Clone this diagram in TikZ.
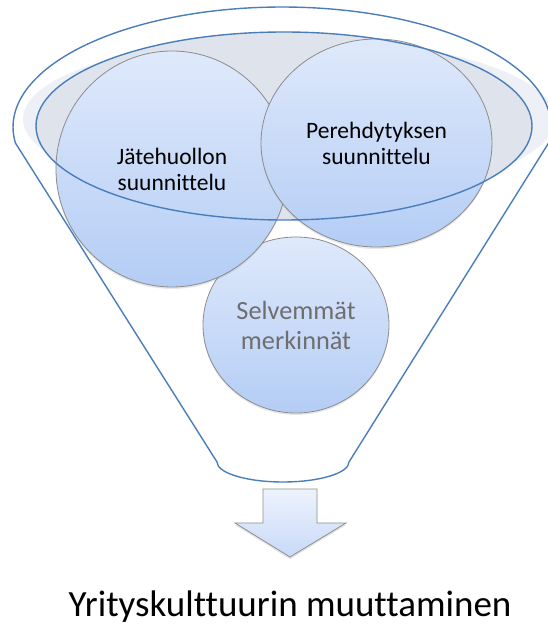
\documentclass[tikz,border=0pt]{standalone}
\usepackage{fontspec}
\setmainfont{Carlito}[Ligatures={NoCommon}]
\usetikzlibrary{shapes.geometric, shadows}
\definecolor{funnelblue}{HTML}{4A7EBB}
\definecolor{bubbletop}{HTML}{DFE9FB}
\definecolor{bubblebot}{HTML}{B4CDF5}
\definecolor{bubblestroke}{HTML}{8C8C8C}
\definecolor{rimshade}{HTML}{EDF0F6}
\definecolor{rimtint}{HTML}{DFE4EC}
\definecolor{arrowtop}{HTML}{EEF3FD}
\definecolor{arrowbot}{HTML}{C8D9F7}
\definecolor{arrowstroke}{HTML}{909090}
\definecolor{greytext}{HTML}{6E6E6E}

\begin{document}
\begin{tikzpicture}[
    x=1pt, y=1pt,
    funnelline/.style={draw=funnelblue, line width=1.4pt, line join=round},
    bubble/.style={ellipse, draw=bubblestroke, line width=0.8pt, top color=bubbletop, bottom color=bubblebot, align=center, inner sep=0pt, drop shadow={opacity=0.2, shadow xshift=0pt, shadow yshift=-2pt}},
    bubblefont/.style={font=\fontsize{23.5}{26}\selectfont},
    downarrow/.style={draw=arrowstroke, line width=0.8pt, line join=miter, top color=arrowtop, bottom color=arrowbot, drop shadow={opacity=0.25, shadow xshift=0pt, shadow yshift=-2pt}}
]
\useasboundingbox (0,0) rectangle (547,627);
% rim shadow and funnel outline
\fill[rimshade] (289,508) ellipse [x radius=266, y radius=81];
\fill[rimtint] (284,501) ellipse [x radius=248, y radius=94];
\draw[funnelline] (548.6,484) arc[start angle=-7.66, end angle=187.66, x radius=269, y radius=120]
    -- (217,165) arc[start angle=180, end angle=360, x radius=66, y radius=20] -- cycle;

% bubbles
\node[bubble, minimum width=186pt, minimum height=176pt, text=greytext, font=\fontsize{26.3}{30}\selectfont] (selv) at (296,302) {Selvemmät\\merkinnät};
\node[bubble, minimum width=232pt, minimum height=236pt, bubblefont] (jate) at (172,458) {Jätehuollon\\suunnittelu};
\node[bubble, minimum width=231pt, minimum height=208pt, bubblefont] (pere) at (376.5,484) {Perehdytyksen\\suunnittelu};

% inner rim
\draw[funnelline] (284,501) ellipse [x radius=248, y radius=94];

% arrow and result
\draw[downarrow] (263,138) -- (317,138) -- (317,104) -- (346,104) -- (290,70) -- (235,104) -- (263,104) -- cycle;
\node[font=\fontsize{37}{44}\selectfont, anchor=base] (goal) at (290,10) {Yrityskulttuurin muuttaminen};
\end{tikzpicture}
\end{document}
